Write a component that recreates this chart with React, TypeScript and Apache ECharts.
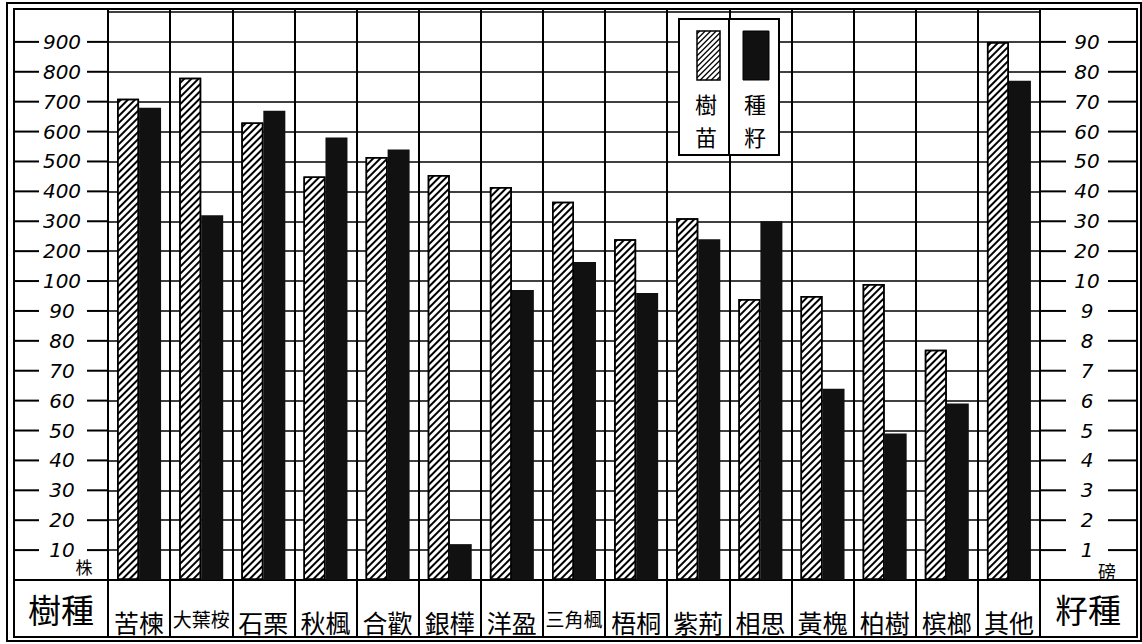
import React, { useEffect, useRef } from "react";
import * as echarts from "echarts";

// categories (tree species)
const species = ["苦楝", "大葉桉", "石栗", "秋楓", "合歡", "銀樺", "洋盈", "三角楓", "梧桐", "紫荊", "相思", "黃槐", "柏樹", "槟榔", "其他"];
// 樹苗 – seedlings, in 株 (left axis)
const seedlings = [710, 780, 630, 450, 515, 455, 415, 365, 240, 310, 94, 95, 99, 77, 900];
// 種籽 – seeds, in 磅 (right axis)
const seeds = [68, 32, 67, 58, 54, 1.2, 9.7, 16.4, 9.6, 24, 30, 6.4, 4.9, 5.9, 77];
// tick labels
const leftTicks = ["10", "20", "30", "40", "50", "60", "70", "80", "90", "100", "200", "300", "400", "500", "600", "700", "800", "900"];
const rightTicks = ["1", "2", "3", "4", "5", "6", "7", "8", "9", "10", "20", "30", "40", "50", "60", "70", "80", "90"];

// piecewise scale: first ten steps of lowStep, then steps of 10*lowStep
const pos = (v: number, lowStep: number) =>
  v <= 10 * lowStep ? v / lowStep : 10 + (v - 10 * lowStep) / (10 * lowStep);

const tickFmt = (arr: string[]) => (v: number) => {
  const i = Math.round(v);
  if (Math.abs(v - i) > 1e-6 || i < 1 || i > arr.length) return "";
  return arr[i - 1];
};

function hatchLines(x0: number, y0: number, w: number, h: number, step: number) {
  const x1 = x0 + w, y1 = y0 + h;
  const out: any[] = [];
  for (let c = x0 + y0 + step / 2; c < x1 + y1; c += step) {
    const xa = Math.max(x0, c - y1);
    const xb = Math.min(x1, c - y0);
    if (xb <= xa) continue;
    out.push({
      type: "line",
      z: 102,
      shape: { x1: xa, y1: c - xa, x2: xb, y2: c - xb },
      style: { stroke: "#000", lineWidth: 1.3 },
    });
  }
  return out;
}

const cjk = "Noto Sans CJK TC";
const txt = (text: string, x: number, y: number, size: number, z = 100) => ({
  type: "text",
  z,
  x,
  y,
  style: { text, fontSize: size, lineHeight: size, fontFamily: cjk, fill: "#000", align: "center", verticalAlign: "middle", textAlign: "center", textVerticalAlign: "middle" },
});
const seg = (x1: number, y1: number, x2: number, y2: number, w = 2, z = 100) => ({
  type: "line",
  z,
  shape: { x1, y1, x2, y2 },
  style: { stroke: "#000", lineWidth: w },
});

export default function App() {
  const ref = useRef<HTMLDivElement>(null);
  useEffect(() => {
    if (!ref.current) return;
    const chart = echarts.init(ref.current, null, { renderer: "svg" });
    const numLabel = {
      fontFamily: "DejaVu Sans",
      fontStyle: "italic",
      fontSize: 20,
      color: "#000",
      align: "center",
      showMinLabel: false,
      showMaxLabel: false,
    };
    const baseY = { type: "value", min: 0, max: 19.1, interval: 1 };
    chart.setOption({
      animation: false,
      backgroundColor: "#fff",
      grid: { left: 108, right: 102, top: 9, bottom: 64 },
      xAxis: {
        type: "category",
        data: species.map((s) => ({ value: s, textStyle: { fontSize: s.length > 2 ? 19 : 25 } })),
        axisLine: { show: true, lineStyle: { color: "#000", width: 2 } },
        axisTick: { show: true, length: 57, interval: 0, lineStyle: { color: "#000", width: 2 } },
        splitLine: { show: true, interval: 0, lineStyle: { color: "#000", width: 2 } },
        axisLabel: { interval: 0, margin: 29, verticalAlign: "middle", fontFamily: cjk, color: "#000" },
      },
      yAxis: [
        {
          ...baseY,
          position: "left",
          axisLine: { show: true, lineStyle: { color: "#000", width: 2 } },
          axisTick: { show: false },
          axisLabel: { ...numLabel, margin: 46, formatter: tickFmt(leftTicks) },
          splitLine: { show: true, lineStyle: { color: "#000", width: 1.5 } },
        },
        {
          ...baseY,
          position: "right",
          axisLine: { show: true, lineStyle: { color: "#000", width: 2 } },
          axisTick: { show: false },
          axisLabel: { ...numLabel, margin: 47, formatter: tickFmt(rightTicks) },
          splitLine: { show: false },
        },
      ],
      series: [
        {
          name: "樹苗",
          type: "bar",
          yAxisIndex: 0,
          data: seedlings.map((v) => pos(v, 10)),
          barWidth: 22,
          barGap: "0%",
          itemStyle: {
            color: "#fff",
            borderColor: "#000",
            borderWidth: 1.5,
            decal: {
              symbol: "rect",
              symbolSize: 1,
              color: "#000",
              dashArrayX: [1, 0],
              dashArrayY: [1.5, 2.5],
              rotation: -Math.PI / 4,
            },
          },
        },
        {
          name: "種籽",
          type: "bar",
          yAxisIndex: 1,
          data: seeds.map((v) => pos(v, 1)),
          barWidth: 22,
          barGap: "0%",
          itemStyle: { color: "#111" },
        },
      ],
    });

    // tick dashes in the label columns, placed through the axis scale
    const tickSegs: any[] = [];
    for (let i = 0; i <= leftTicks.length; i++) {
      const y = chart.convertToPixel({ yAxisIndex: 0 }, i) as number;
      if (i === 0) {
        tickSegs.push(seg(14, y, 108, y), seg(1040, y, 1137, y));
      } else {
        tickSegs.push(seg(14, y, 39, y), seg(87, y, 108, y), seg(1040, y, 1066, y), seg(1108, y, 1137, y));
      }
    }

    chart.setOption({
      graphic: [
        { type: "rect", z: 100, shape: { x: 7, y: 3, width: 1134, height: 638 }, style: { fill: "none", stroke: "#000", lineWidth: 2 } },
        { type: "rect", z: 100, shape: { x: 14, y: 9, width: 1123, height: 628 }, style: { fill: "none", stroke: "#000", lineWidth: 2 } },
        ...tickSegs,
        txt("樹種", 61, 609, 33),
        txt("籽種", 1088, 609, 33),
        txt("株", 84, 566, 17),
        txt("磅", 1107, 571, 18),
        // legend box
        { type: "rect", z: 101, shape: { x: 679, y: 19, width: 100, height: 136 }, style: { fill: "#fff", stroke: "#000", lineWidth: 2 } },
        seg(729, 19, 729, 155, 2, 102),
        { type: "rect", z: 102, shape: { x: 697, y: 31, width: 23, height: 49 }, style: { fill: "#fff", stroke: "#000", lineWidth: 1.5 } },
        ...hatchLines(697, 31, 23, 49, 5.5),
        { type: "rect", z: 102, shape: { x: 743, y: 31, width: 26, height: 49 }, style: { fill: "#111", stroke: "#000", lineWidth: 1 } },
        txt("樹", 706, 103, 22, 102),
        txt("苗", 706, 136, 22, 102),
        txt("種", 755, 103, 22, 102),
        txt("籽", 755, 136, 22, 102),
      ],
    });
    return () => chart.dispose();
  }, []);
  return <div ref={ref} style={{ position: "absolute", left: 0, top: 0, width: 1142, height: 644 }} />;
}
